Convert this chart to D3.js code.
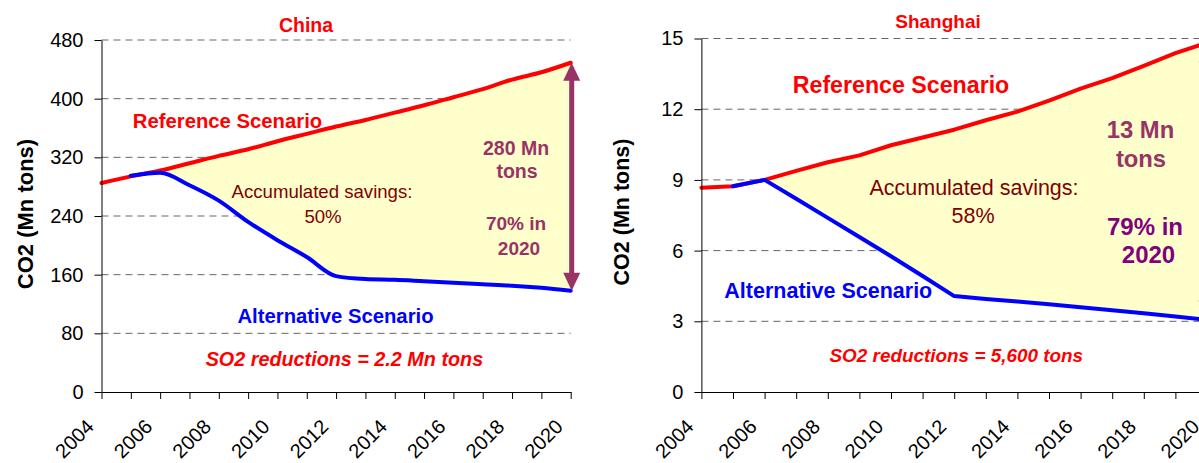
<!DOCTYPE html>
<html>
<head>
<meta charset="utf-8">
<script src="https://cdn.jsdelivr.net/npm/d3@7"></script>
<style>
  body { margin: 0; background: #fff; }
  svg { display: block; font-family: "Liberation Sans", Arial, sans-serif; }
</style>
</head>
<body>
<svg id="chart" width="1199" height="463"></svg>
<script>
// Years on the category axis and the labelled ones
const years = [2004, 2005, 2006, 2007, 2008, 2009, 2010, 2011, 2012,
               2013, 2014, 2015, 2016, 2017, 2018, 2019, 2020];
const yearLabels = [2004, 2006, 2008, 2010, 2012, 2014, 2016, 2018, 2020];

// China CO2 emissions, Mn tons
const chinaReference   = [285, 294, 302, 312, 322, 331, 342, 352, 362, 371, 381, 391, 402, 413, 426, 436, 449];
const chinaAlternative = [null, 295, 299, 282, 261, 232, 207, 184, 158, 154, 153, 151, 149, 147, 145, 142, 138];
const chinaTicks = [0, 80, 160, 240, 320, 400, 480];

// Shanghai CO2 emissions, Mn tons
const shanghaiReference   = [8.67, 8.73, 9.0, 9.38, 9.75, 10.04, 10.47, 10.8, 11.13, 11.53, 11.9, 12.36, 12.87, 13.32, 13.84, 14.38, 14.82];
const shanghaiAlternative = [null, 8.73, 9.0, 8.2, 7.39, 6.58, 5.76, 4.92, 4.07, 3.95, 3.84, 3.72, 3.6, 3.47, 3.34, 3.2, 3.06];
const shanghaiTicks = [0, 3, 6, 9, 12, 15];

const svg = d3.select("#chart");

const RED = "#ff0000", BLUE = "#0000ff", FILL = "#ffffcc",
      SAVE = "#800000", MAUVE = "#993366", PURPLE = "#800080";

const panels = [
  {
    title: "China", reference: chinaReference, alternative: chinaAlternative,
    ticks: chinaTicks, yMax: 480, left: 101.5, right: 570.7, top: 40, bottom: 392,
    curve: d3.curveMonotoneX, titleX: 306, titleY: 32, titleSize: 19.5,
    axisTitleX: 25, axisTitleY: 214, axisTitleSize: 22,
    arrowHead: 18, arrowHalf: 8.5,
    texts: [
      { t: "Reference Scenario", x: 227.5, y: 128, size: 20.3, weight: "bold", fill: RED },
      { t: "Accumulated savings:", x: 322, y: 198, size: 18.6, weight: "normal", fill: SAVE },
      { t: "50%", x: 323, y: 223, size: 18.6, weight: "normal", fill: SAVE },
      { t: "280 Mn", x: 516, y: 155, size: 19.5, weight: "bold", fill: MAUVE },
      { t: "tons", x: 517, y: 178, size: 19.5, weight: "bold", fill: MAUVE },
      { t: "70% in", x: 516, y: 230, size: 19, weight: "bold", fill: MAUVE },
      { t: "2020", x: 519, y: 255, size: 19, weight: "bold", fill: MAUVE },
      { t: "Alternative Scenario", x: 335.5, y: 323, size: 20.3, weight: "bold", fill: BLUE },
      { t: "SO2 reductions = 2.2 Mn tons", x: 344.4, y: 366, size: 19.8, weight: "bold", style: "italic", fill: RED }
    ]
  },
  {
    title: "Shanghai", reference: shanghaiReference, alternative: shanghaiAlternative,
    ticks: shanghaiTicks, yMax: 15, left: 701.4, right: 1207, top: 38.5, bottom: 392,
    curve: d3.curveLinear, titleX: 938, titleY: 28, titleSize: 19,
    axisTitleX: 622, axisTitleY: 212, axisTitleSize: 21.5,
    arrowHead: 19.5, arrowHalf: 9.5,
    texts: [
      { t: "Reference Scenario", x: 901, y: 93, size: 23.2, weight: "bold", fill: RED },
      { t: "Accumulated savings:", x: 974, y: 195, size: 21.5, weight: "normal", fill: SAVE },
      { t: "58%", x: 973, y: 223, size: 21.5, weight: "normal", fill: SAVE },
      { t: "13 Mn", x: 1140.5, y: 138, size: 23.8, weight: "bold", fill: MAUVE },
      { t: "tons", x: 1141, y: 167, size: 23.8, weight: "bold", fill: MAUVE },
      { t: "79% in", x: 1145, y: 235, size: 24, weight: "bold", fill: PURPLE },
      { t: "2020", x: 1148.5, y: 263, size: 24, weight: "bold", fill: PURPLE },
      { t: "Alternative Scenario", x: 828.3, y: 298, size: 21.5, weight: "bold", fill: BLUE },
      { t: "SO2 reductions = 5,600 tons", x: 956.3, y: 362, size: 18.9, weight: "bold", style: "italic", fill: RED }
    ]
  }
];

panels.forEach(p => {
  const x = d3.scaleLinear().domain([years[0], years[years.length - 1]]).range([p.left, p.right]);
  const y = d3.scaleLinear().domain([0, p.yMax]).range([p.bottom, p.top]);
  const g = svg.append("g");

  // dashed horizontal gridlines
  g.append("g").selectAll("line")
    .data(p.ticks.filter(v => v > 0))
    .join("line")
    .attr("x1", p.left).attr("x2", p.right)
    .attr("y1", d => y(d)).attr("y2", d => y(d))
    .attr("stroke", "#666").attr("stroke-width", 1)
    .attr("stroke-dasharray", "7,5");

  const rows = years.map((yr, i) => ({ yr, ref: p.reference[i], alt: p.alternative[i] }));

  // savings band between the two scenarios
  g.append("path")
    .datum(rows.filter(r => r.alt != null))
    .attr("fill", FILL)
    .attr("d", d3.area().curve(p.curve)
      .x(d => x(d.yr)).y0(d => y(d.alt)).y1(d => y(d.ref)));

  // scenario lines
  g.append("path")
    .datum(rows)
    .attr("fill", "none").attr("stroke", RED).attr("stroke-width", 4)
    .attr("stroke-linejoin", "round").attr("stroke-linecap", "round")
    .attr("d", d3.line().curve(p.curve).x(d => x(d.yr)).y(d => y(d.ref)));

  g.append("path")
    .datum(rows.filter(r => r.alt != null))
    .attr("fill", "none").attr("stroke", BLUE).attr("stroke-width", 4)
    .attr("stroke-linejoin", "round").attr("stroke-linecap", "round")
    .attr("d", d3.line().curve(p.curve).x(d => x(d.yr)).y(d => y(d.alt)));

  // axes
  const yAxis = g.append("g")
    .attr("transform", `translate(${p.left},0)`)
    .call(d3.axisLeft(y).tickValues(p.ticks).tickSize(7).tickSizeOuter(0).tickPadding(11));
  yAxis.selectAll("text").style("font-size", "20px").attr("fill", "#000");

  const xAxis = g.append("g")
    .attr("transform", `translate(0,${p.bottom})`)
    .call(d3.axisBottom(x).tickValues(years).tickSize(7).tickSizeOuter(0)
      .tickFormat(d => yearLabels.includes(d) ? String(d) : ""));
  xAxis.selectAll("text")
    .attr("x", 0).attr("y", 0).attr("dy", null)
    .attr("text-anchor", "end")
    .attr("transform", "translate(-7,36) rotate(-45)")
    .style("font-size", "20px").attr("fill", "#000");

  [yAxis, xAxis].forEach(a => {
    a.select(".domain").attr("stroke", "#000");
    a.selectAll(".tick line").attr("stroke", "#000");
  });

  // titles
  g.append("text")
    .attr("x", p.titleX).attr("y", p.titleY)
    .attr("text-anchor", "middle")
    .style("font-size", p.titleSize + "px").style("font-weight", "bold")
    .attr("fill", RED).text(p.title);

  g.append("text")
    .attr("transform", `translate(${p.axisTitleX},${p.axisTitleY}) rotate(-90)`)
    .attr("text-anchor", "middle").attr("dominant-baseline", "central")
    .style("font-size", p.axisTitleSize + "px").style("font-weight", "bold")
    .attr("fill", "#000").text("CO2 (Mn tons)");

  // annotations
  g.append("g").selectAll("text")
    .data(p.texts)
    .join("text")
    .attr("x", d => d.x).attr("y", d => d.y)
    .attr("text-anchor", "middle")
    .style("font-size", d => d.size + "px")
    .style("font-weight", d => d.weight)
    .style("font-style", d => d.style || "normal")
    .attr("fill", d => d.fill)
    .text(d => d.t);

  // double-headed arrow spanning the 2020 gap
  const last = rows[rows.length - 1];
  const ax = x(last.yr) + 1, yTop = y(last.ref), yBot = y(last.alt);
  const head = p.arrowHead, half = p.arrowHalf;
  g.append("line")
    .attr("x1", ax).attr("x2", ax)
    .attr("y1", yTop + head - 1).attr("y2", yBot - head + 1)
    .attr("stroke", MAUVE).attr("stroke-width", 5);
  g.append("path")
    .attr("fill", MAUVE)
    .attr("d", `M${ax},${yTop} L${ax - half},${yTop + head} L${ax + half},${yTop + head} Z`);
  g.append("path")
    .attr("fill", MAUVE)
    .attr("d", `M${ax},${yBot} L${ax - half},${yBot - head} L${ax + half},${yBot - head} Z`);
});
</script>
</body>
</html>
